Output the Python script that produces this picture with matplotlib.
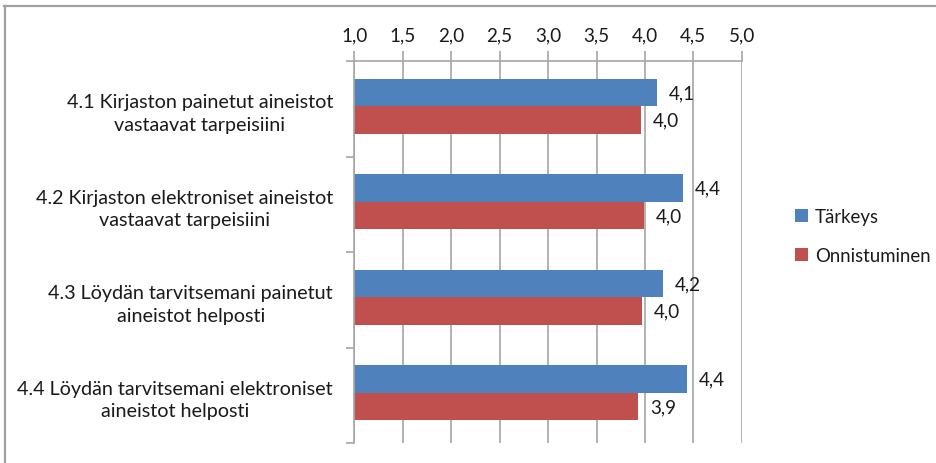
import matplotlib
matplotlib.use("Agg")
import matplotlib.pyplot as plt
from matplotlib.lines import Line2D
from matplotlib.patches import Patch
import numpy as np

categories = [
    "4.1 Kirjaston painetut aineistot\nvastaavat tarpeisiini",
    "4.2 Kirjaston elektroniset aineistot\nvastaavat tarpeisiini",
    "4.3 Löydän tarvitsemani painetut\naineistot helposti",
    "4.4 Löydän tarvitsemani elektroniset\naineistot helposti",
]
tarkeys = [4.12, 4.39, 4.19, 4.44]
onnistuminen = [3.96, 3.99, 3.97, 3.93]
series_names = ["Tärkeys", "Onnistuminen"]
xticks = [1.0, 1.5, 2.0, 2.5, 3.0, 3.5, 4.0, 4.5, 5.0]

BLUE = "#4F81BD"
RED = "#C0504D"
GRID = "#a6a6a6"
TXT = "#1a1a1a"

plt.rcParams['font.family'] = ['Lato', 'DejaVu Sans']

W, H = 937, 464
fig = plt.figure(figsize=(W / 100, H / 100), dpi=100)
ax = fig.add_axes([354.5 / W, 1 - 444 / H, (741.7 - 354.5) / W, (444 - 62) / H])

y = np.arange(len(categories))
h = 0.288
shift = -0.025
left = 1.0
b1 = ax.barh(y + shift - h / 2, np.array(tarkeys) - left, left=left, height=h, color=BLUE)
b2 = ax.barh(y + shift + h / 2, np.array(onnistuminen) - left, left=left, height=h, color=RED)

def fmt(v):
    return f"{v:.1f}".replace(".", ",")

FS = 13.6
ax.bar_label(b1, labels=[fmt(v) for v in tarkeys], padding=8.5, fontsize=FS, color=TXT)
ax.bar_label(b2, labels=[fmt(v) for v in onnistuminen], padding=8.5, fontsize=FS, color=TXT)

ax.set_xlim(1.0, 5.0)
ax.set_ylim(len(categories) - 0.5, -0.5)
ax.set_xticks(xticks)
ax.set_xticklabels([fmt(v) for v in xticks], fontsize=FS, color=TXT)
ax.xaxis.tick_top()
ax.tick_params(axis='x', direction='out', length=7.5, color=GRID, width=1.2, pad=5)
ax.grid(axis='x', color=GRID, linewidth=1.2)
ax.set_axisbelow(True)

ax.set_yticks(y)
ax.set_yticklabels(categories, fontsize=14.2, color=TXT, ha='right', multialignment='center',
                   linespacing=1.4)
ax.set_yticks(np.arange(len(categories) + 1) - 0.5, minor=True)
ax.tick_params(axis='y', which='major', length=0, pad=15.5)
ax.tick_params(axis='y', which='minor', length=5.5, color=GRID, width=1.2)

for s in ['right', 'bottom']:
    ax.spines[s].set_visible(False)
ax.spines['top'].set_color(GRID)
ax.spines['left'].set_color(GRID)
ax.spines['top'].set_linewidth(1.2)
ax.spines['left'].set_linewidth(1.2)

handles = [Patch(facecolor=BLUE), Patch(facecolor=RED)]
fig.legend(handles, series_names, loc='center left', bbox_to_anchor=(786 / W, 1 - 237 / H),
           frameon=False, fontsize=13.4, handlelength=0.7, handleheight=0.7,
           handletextpad=0.35, labelspacing=1.2, borderpad=0, labelcolor=TXT)

fig.add_artist(Line2D([4 / W, 1], [1 - 6.5 / H, 1 - 6.5 / H], transform=fig.transFigure,
                      color="#a0a0a0", linewidth=1.6))
fig.add_artist(Line2D([4.5 / W, 4.5 / W], [0, 1 - 6.5 / H], transform=fig.transFigure,
                      color="#a0a0a0", linewidth=1.6))

fig.savefig("out.png", dpi=100)
